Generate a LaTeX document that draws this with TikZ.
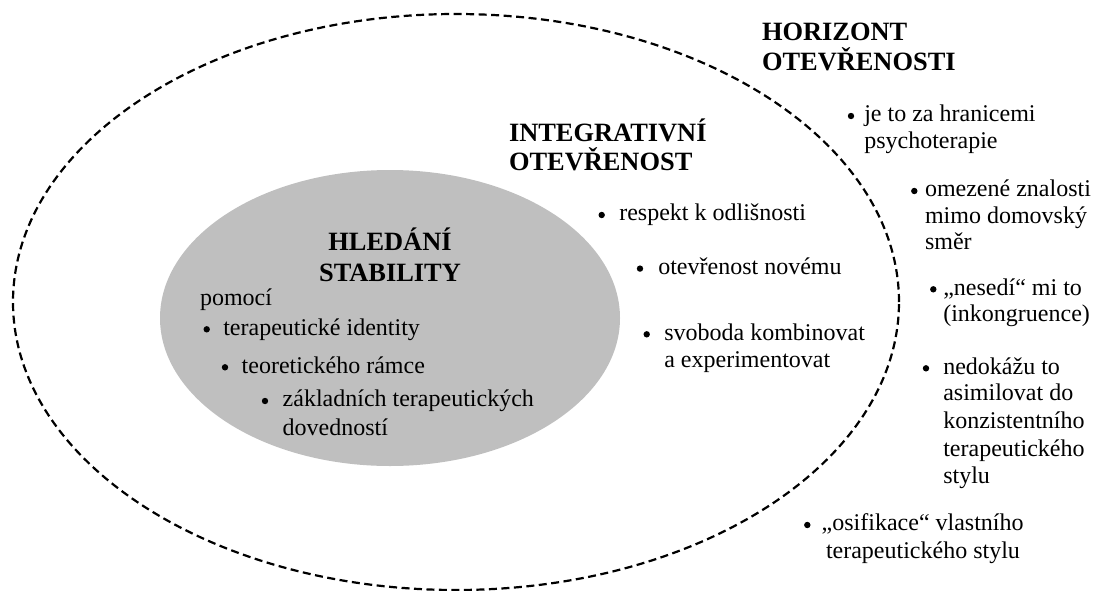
\documentclass[tikz,border=0pt]{standalone}
\usepackage{fontspec}
\setmainfont{Liberation Serif}
\usetikzlibrary{shapes.geometric}
\definecolor{stabgray}{RGB}{191,191,191}
\tikzset{
  txt/.style={anchor=base west, inner sep=0pt, outer sep=0pt, font=\fontsize{24}{27}\selectfont},
  ttl/.style={anchor=base west, inner sep=0pt, outer sep=0pt, font=\bfseries\fontsize{26.4}{30}\selectfont},
  ttlc/.style={ttl, anchor=base},
  bul/.style={circle, fill=black, draw=none, inner sep=0pt, minimum size=6.4pt},
  horizon/.style={draw=black, line width=2.2pt, dash pattern=on 8pt off 4.5pt},
}
\begin{document}
\begin{tikzpicture}[x=1pt, y=-1pt]
\useasboundingbox (0,0) rectangle (1101,590);
% shapes
\node[ellipse, fill=stabgray, draw=none, minimum width=460pt, minimum height=296pt, inner sep=0pt] (stab) at (390,318) {};
\node[ellipse, horizon, minimum width=886pt, minimum height=576pt, inner sep=0pt] (outer) at (456,302) {};
% titles
\node[ttl] (hor1) at (762,40) {HORIZONT};
\node[ttl] (hor2) at (762,70.7) {OTEVŘENOSTI};
\node[ttl] (int1) at (509,141) {INTEGRATIVNÍ};
\node[ttl] (int2) at (509,170) {OTEVŘENOST};
\node[ttlc] (hle1) at (390,250) {HLEDÁNÍ};
\node[ttlc] (hle2) at (390,281) {STABILITY};
% stability list
\node[txt] (pom) at (200,305) {pomocí};
\node[bul] (b1) at (206.7,329.3) {};
\node[txt] (s1) at (223.3,335) {terapeutické identity};
\node[bul] (b2) at (225,367.3) {};
\node[txt] (s2) at (241.7,373) {teoretického rámce};
\node[bul] (b3) at (265,401) {};
\node[txt] (s3a) at (282.7,406.7) {základních terapeutických};
\node[txt] (s3b) at (282.7,435) {dovedností};
% integrative list
\node[bul] (b4) at (601.7,215) {};
\node[txt] (i1) at (619.3,220.7) {respekt k odlišnosti};
\node[bul] (b5) at (640,268.6) {};
\node[txt] (i2) at (658.3,274.3) {otevřenost novému};
\node[bul] (b6) at (646.7,334.3) {};
\node[txt] (i3a) at (664.3,340) {svoboda kombinovat};
\node[txt] (i3b) at (664.3,367.3) {a experimentovat};
% horizon list
\node[bul] (b7) at (851,116) {};
\node[txt] (h1a) at (864.3,121.7) {je to za hranicemi};
\node[txt] (h1b) at (864.3,148.3) {psychoterapie};
\node[bul] (b8) at (914.3,191) {};
\node[txt] (h2a) at (925,196.7) {omezené znalosti};
\node[txt] (h2b) at (925,223.3) {mimo domovský};
\node[txt] (h2c) at (925,249.3) {směr};
\node[bul] (b9) at (933.3,289.3) {};
\node[txt] (h3a) at (943.3,295) {„nesedí“ mi to};
\node[txt] (h3b) at (943.3,321) {(inkongruence)};
\node[bul] (b10) at (926,368.3) {};
\node[txt] (h4a) at (943.3,374) {nedokážu to};
\node[txt] (h4b) at (943.3,400.7) {asimilovat do};
\node[txt] (h4c) at (943.3,428.3) {konzistentního};
\node[txt] (h4d) at (943.3,456) {terapeutického};
\node[txt] (h4e) at (943.3,483.3) {stylu};
\node[bul] (b11) at (807.3,525) {};
\node[txt] (h5a) at (821.7,530.7) {„osifikace“ vlastního};
\node[txt] (h5b) at (826,558.3) {terapeutického stylu};
\end{tikzpicture}
\end{document}
